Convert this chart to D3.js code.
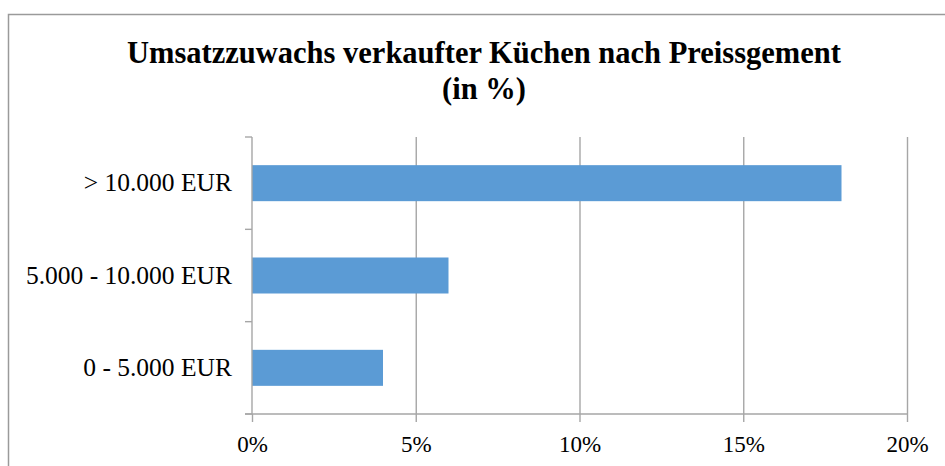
<!DOCTYPE html>
<html>
<head>
<meta charset="utf-8">
<script src="https://cdn.jsdelivr.net/npm/d3@7"></script>
<style>
  body { margin: 0; background: #fff; }
  text { font-family: "Liberation Serif", "Times New Roman", serif; fill: #000; }
</style>
</head>
<body>
<svg id="chart" width="945" height="466"></svg>
<script>
// data
var categories = ["> 10.000 EUR", "5.000 - 10.000 EUR", "0 - 5.000 EUR"];
var values = [0.18, 0.06, 0.04];
var tickValues = [0, 0.05, 0.10, 0.15, 0.20];
var titleLines = ["Umsatzzuwachs verkaufter Küchen nach Preissgement", "(in %)"];

var svg = d3.select("#chart");

// outer frame
svg.append("rect")
  .attr("x", 8.5).attr("y", 14.5)
  .attr("width", 960).attr("height", 480)
  .attr("fill", "none")
  .attr("stroke", "#9a9a9a")
  .attr("stroke-width", 1.5);

// title
svg.selectAll(".title")
  .data(titleLines)
  .enter().append("text")
  .attr("class", "title")
  .attr("x", 484)
  .attr("y", function(d, i) { return 63 + i * 36; })
  .attr("text-anchor", "middle")
  .style("font-size", "30.5px")
  .style("font-weight", "bold")
  .text(function(d) { return d; });

var x = d3.scaleLinear().domain([0, 0.2]).range([252, 907]);
var y = d3.scaleBand().domain(categories).range([137, 414])
  .paddingInner(0.61).paddingOuter(0.305);

// vertical gridlines
svg.append("g")
  .attr("transform", "translate(0,414)")
  .call(d3.axisBottom(x).tickValues(tickValues.slice(1)).tickSize(-277).tickFormat(""))
  .call(function(g) { g.select(".domain").remove(); })
  .selectAll("line").attr("stroke", "#a6a6a6").attr("stroke-width", 1.4);

// bars
svg.selectAll(".bar")
  .data(values)
  .enter().append("rect")
  .attr("class", "bar")
  .attr("x", x(0))
  .attr("y", function(d, i) { return y(categories[i]); })
  .attr("width", function(d) { return x(d) - x(0); })
  .attr("height", y.bandwidth())
  .attr("fill", "#5b9bd5");

// x axis
var xAxis = svg.append("g")
  .attr("transform", "translate(0,414)")
  .call(d3.axisBottom(x).tickValues(tickValues).tickSize(8).tickPadding(14)
    .tickFormat(d3.format(".0%")));
xAxis.select(".domain").attr("d", "M245,0H" + x(0.2)).attr("stroke", "#a6a6a6").attr("stroke-width", 1.4);
xAxis.selectAll("line").attr("stroke", "#a6a6a6").attr("stroke-width", 1.4);
xAxis.selectAll("text").style("font-size", "23px").style("font-family", "Liberation Serif, serif");

// y axis: line plus ticks at band boundaries
var yAxis = svg.append("g").attr("transform", "translate(252,0)");
yAxis.append("line")
  .attr("x1", 0).attr("x2", 0)
  .attr("y1", y.range()[0]).attr("y2", y.range()[1])
  .attr("stroke", "#a6a6a6").attr("stroke-width", 1.4);
var step = y.step();
var bounds = categories.map(function(c) { return y(c) - (step - y.bandwidth()) / 2; });
bounds.push(y.range()[1]);
yAxis.selectAll(".ytick")
  .data(bounds)
  .enter().append("line")
  .attr("class", "ytick")
  .attr("x1", -7).attr("x2", 0)
  .attr("y1", function(d) { return d; }).attr("y2", function(d) { return d; })
  .attr("stroke", "#a6a6a6").attr("stroke-width", 1.4);

// category labels
yAxis.append("g")
  .call(d3.axisLeft(y).tickSize(0).tickPadding(20))
  .call(function(g) { g.select(".domain").remove(); })
  .selectAll("text").style("font-size", "25.5px").style("font-family", "Liberation Serif, serif");
</script>
</body>
</html>
